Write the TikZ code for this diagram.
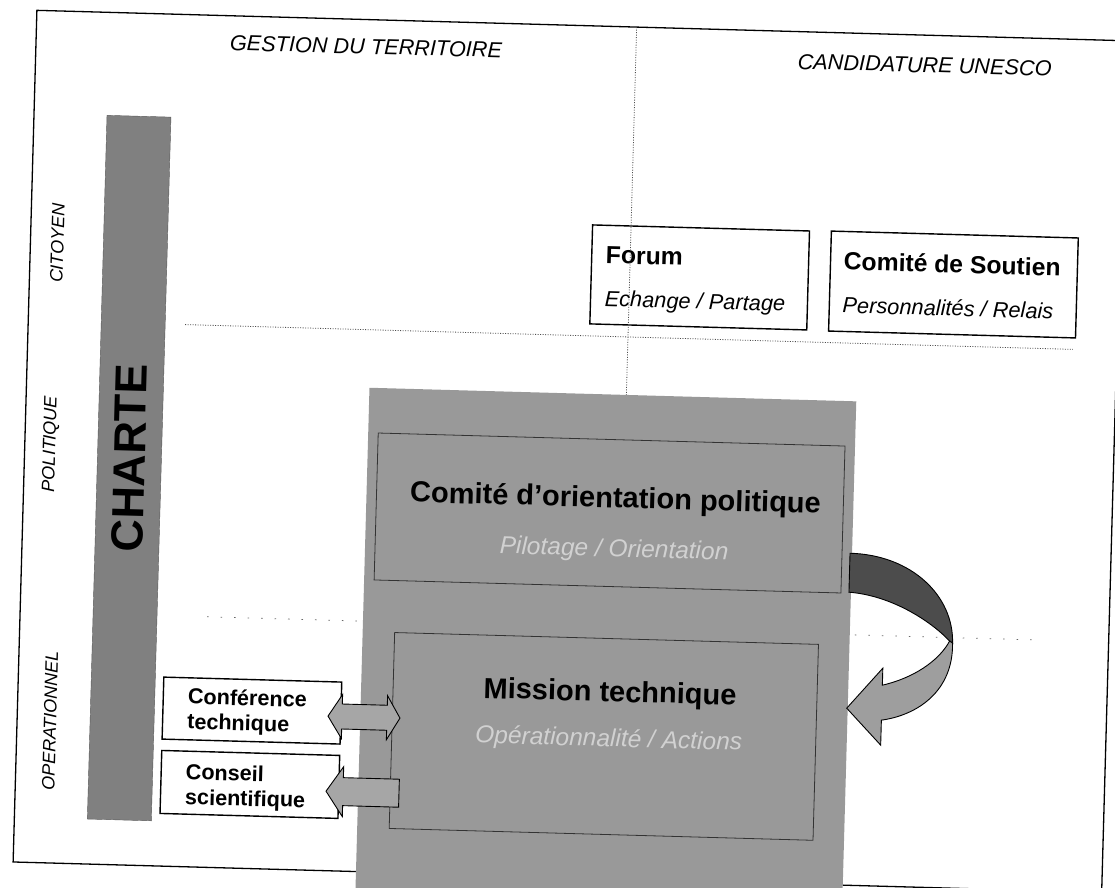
\documentclass[tikz,border=0pt]{standalone}
\usepackage{fontspec}
\setmainfont{Liberation Sans}
\usetikzlibrary{positioning}

\begin{document}
\begin{tikzpicture}[x=1pt, y=-1pt]
    \tikzstyle{whitebox} = [rectangle, draw=black, line width=1.4pt, fill=white, inner sep=0pt]
    \tikzstyle{innerbox} = [rectangle, draw=black!80, line width=0.8pt, inner sep=0pt]
    \tikzstyle{sidebox} = [whitebox, minimum width=178pt, minimum height=62pt]
    \tikzstyle{colhead} = [font=\fontsize{21.7}{26}\selectfont\itshape]
    \tikzstyle{rowlabel} = [font=\fontsize{18}{22}\selectfont\itshape, rotate=90]
    \tikzstyle{boxtitle} = [font=\fontsize{24.7}{28}\selectfont\bfseries, anchor=base west, inner sep=0pt]
    \tikzstyle{boxsub} = [font=\fontsize{21.8}{26}\selectfont\itshape, anchor=base west, inner sep=0pt]
    \tikzstyle{bigtitle} = [font=\fontsize{29}{34}\selectfont\bfseries, anchor=base, inner sep=0pt]
    \tikzstyle{bigsub} = [font=\fontsize{24.5}{28}\selectfont\itshape, text=black!18, anchor=base, inner sep=0pt]
    \tikzstyle{sidetext} = [font=\fontsize{21.6}{25}\selectfont\bfseries, align=left, anchor=west, inner sep=0pt]
    \tikzstyle{blockarrow} = [draw=black, line width=0.9pt, fill=black!35, line join=miter]
    \tikzstyle{sepline} = [dash pattern=on 1pt off 1.5pt, line width=0.8pt, black!70]
    \tikzstyle{looseline} = [dash pattern=on 1.5pt off 12pt, line width=0.8pt, black!60]

    \useasboundingbox (0,0) rectangle (1115,887);
    \begin{scope}[rotate around={-1.6:(557,443)}, transform shape]
    \draw [line width=1.3pt] (25,25) rectangle (1114,877);

    % column and row headings
    \node (gestion) [colhead] at (355,52) {GESTION DU TERRITOIRE};
    \node (unesco) [colhead] at (914,55) {CANDIDATURE UNESCO};
    \node (citoyen) [rowlabel] at (52,257) {CITOYEN};
    \node (politique) [rowlabel] at (51,458) {POLITIQUE};
    \node (operationnel) [rowlabel] at (58,735) {OPERATIONNEL};

    % charte
    \node (charte) [rectangle, fill=black!50, draw=black!65, minimum width=64pt, minimum height=704pt] at (130,480) {};
    \node (charteLbl) [rotate=90, font=\fontsize{45}{50}\selectfont\bfseries] at (130,470) {CHARTE};

    % citizen level
    \node (forum) [whitebox, minimum width=217pt, minimum height=99pt] at (695,273.5) {};
    \node (soutien) [whitebox, minimum width=247pt, minimum height=100pt, right=20.5pt of forum] {};
    \node (forumT) [boxtitle] at (600.5,262) {Forum};
    \node (forumS) [boxsub] at (600.5,305) {Echange / Partage};
    \node (soutienT) [boxtitle] at (838.5,262) {Comité de Soutien};
    \node (soutienS) [boxsub] at (838.5,305) {Personnalités / Relais};

    \draw [sepline] (625,25) -- (625,393);
    \draw [sepline] (182,335) -- (1070,335);
    \draw [looseline] (212,626.5) -- (1042,626.5);

    % steering and mission
    \node (gouvernance) [rectangle, fill=black!40, minimum width=487pt, minimum height=507pt] at (611.5,646.5) {};
    \node (cop) [innerbox, minimum width=467pt, minimum height=147pt] at (611.5,511.5) {};
    \node (copT) [bigtitle] at (617,506) {Comité d'orientation politique};
    \node (copS) [bigsub] at (617,555) {Pilotage / Orientation};
    \node (mission) [innerbox, minimum width=424pt, minimum height=196pt] at (612,735) {};
    \node (missionT) [bigtitle] at (617,700) {Mission technique};
    \node (missionS) [bigsub] at (617,745) {Opérationnalité / Actions};

    % curved arrow
    \draw [blockarrow, fill=black!70] (853,545) .. controls (915,545) and (958,585) .. (958,632)
        -- (955,630) .. controls (935,610) and (895,586) .. (853,584) -- cycle;
    \draw [blockarrow, fill=black!38] (958,632) .. controls (960,680) and (925,705) .. (889,711)
        -- (889,736) -- (854,700) -- (889,659) -- (889,676)
        .. controls (920,668) and (945,650) .. (955,630) -- cycle;

    % technical bodies
    \node (conf) [sidebox] at (259.5,719) {};
    \node (conseil) [sidebox, minimum height=63pt, below=10pt of conf] {};
    \node (confT) [sidetext] at (195,721) {Conférence\\technique};
    \node (conseilT) [sidetext] at (195,796.5) {Conseil\\scientifique};

    \draw [blockarrow] (335.7,722.4) -- (349.7,700.4) -- (349.7,709.9) -- (394.7,709.9) -- (394.7,700.4)
        -- (407.7,722.4) -- (394.7,744.4) -- (394.7,734.9) -- (349.7,734.9) -- (349.7,744.4) -- cycle;
    \draw [blockarrow] (335.8,797.5) -- (352.8,772.5) -- (352.8,783.5) -- (408.8,783.5) -- (408.8,811.5)
        -- (352.8,811.5) -- (352.8,822.5) -- cycle;
    \end{scope}
\end{tikzpicture}
\end{document}
